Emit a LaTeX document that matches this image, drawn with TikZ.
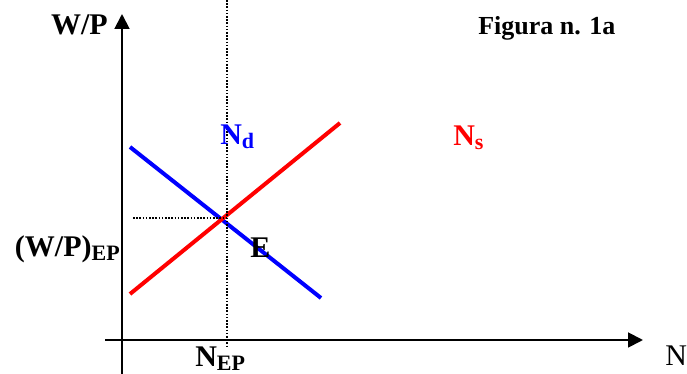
\documentclass[tikz,border=0pt]{standalone}
\usepackage{fontspec}
\setmainfont{Liberation Serif}
\usetikzlibrary{arrows.meta}

\newcommand{\lowsub}[1]{\raisebox{-2.5pt}{\fontsize{16.5}{20}\selectfont #1}}

\begin{document}
\begin{tikzpicture}[
  x=0.75pt, y=-0.75pt,
  >={Triangle[length=11.25pt,width=11.25pt]},
  every node/.style={inner sep=0pt},
  axis/.style={->, line width=1.4pt},
  guide/.style={line width=1.3pt, dash pattern=on 1.2pt off 1.2pt},
  demand/.style={line width=3pt, color=blue},
  supply/.style={line width=3pt, color=red},
  lbl/.style={font=\fontsize{22.5}{27}\selectfont\bfseries},
  title/.style={font=\fontsize{19.5}{24}\selectfont\bfseries},
]
\useasboundingbox (0,0) rectangle (687,374);

% Axes
\coordinate (ybot) at (122,374);
\coordinate (ytop) at (122,14);
\coordinate (xleft) at (105,340);
\coordinate (xright) at (643,340);
\draw[axis] (ybot) -- (ytop);
\draw[axis] (xleft) -- (xright);

% Demand and supply
\coordinate (d1) at (130,147);
\coordinate (d2) at (321,298);
\coordinate (s1) at (130,294);
\coordinate (s2) at (340,123);
\draw[demand] (d1) -- (d2);
\draw[supply] (s1) -- (s2);

% Equilibrium guides
\coordinate (eq) at (227,218);
\coordinate (vtop) at (227,0);
\coordinate (vbot) at (227,347);
\coordinate (hleft) at (133,218);
\draw[guide] (vtop) -- (vbot);
\draw[guide] (hleft) -- (eq);

% Labels
\node[lbl, anchor=base east] (wp) at (108,35) {W/P};
\node[title, anchor=base west] (fig) at (478,35) {Figura n. 1a};
\node[lbl, anchor=base west, text=blue] (nd) at (220,145) {N\lowsub{d}};
\node[lbl, anchor=base west, text=red] (ns) at (453,146) {N\lowsub{s}};
\node[lbl, anchor=base east] (wpep) at (120,257) {(W/P)\lowsub{EP}};
\node[lbl, anchor=base west] (e) at (250,258) {E};
\node[lbl, anchor=base west] (nep) at (195,367) {N\lowsub{EP}};
\node[font=\fontsize{22.5}{27}\selectfont, anchor=base west] (n) at (665,366) {N};

\end{tikzpicture}
\end{document}
